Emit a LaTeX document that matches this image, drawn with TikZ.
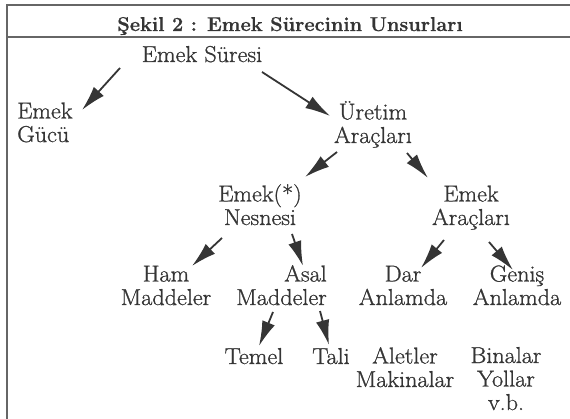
\documentclass[tikz,border=0pt]{standalone}
\usepackage{fontspec}
\usetikzlibrary{arrows.meta}
\newfontfamily\lblfont{Latin Modern Roman}[FakeStretch=1.05, FakeBold=1]
\newfontfamily\ttlfont{Latin Modern Roman}[FakeBold=0.6]
\definecolor{ink}{HTML}{353535}
\definecolor{rulec}{HTML}{666666}
\begin{document}
\begin{tikzpicture}[x=1pt,y=-1pt,
  lbl/.style={font=\lblfont\fontsize{23}{23.5}\selectfont, text=ink, inner sep=0pt, align=center, anchor=base},
  ttl/.style={font=\ttlfont\fontsize{20}{24}\selectfont\bfseries, text=ink, inner sep=0pt, anchor=base},
  arr/.style={draw=ink, line width=1.8pt, -{Latex[length=25pt,width=13.5pt]}},
  frameline/.style={draw=rulec, line width=1.4pt}]
\useasboundingbox (0,0) rectangle (570,419);
% frame
\draw[frameline, line width=2.4pt] (7,420) -- (7,5);
\draw[frameline] (6,5) -- (572,5);
\draw[frameline] (7,37) -- (572,37);
% nodes (anchor base = baseline of the last line)
\node[ttl] (title) at (290,31) {Şekil 2 : Emek Sürecinin Unsurları};
\node[lbl] (es) at (202,62) {Emek Süresi};
\node[lbl, align=left, anchor=base west] (eg) at (17,142) {Emek\\Gücü};
\node[lbl] (ua) at (373,143) {Üretim\\Araçları};
\node[lbl] (en) at (260,225) {Emek(*)\\Nesnesi};
\node[lbl] (ea) at (471,225) {Emek\\Araçları};
\node[lbl] (hm) at (166,305) {Ham\\Maddeler};
\node[lbl, align=right, anchor=base east] (am) at (327,305) {Asal\\Maddeler};
\node[lbl] (da) at (403,305) {Dar\\Anlamda};
\node[lbl] (ga) at (517,305) {Geniş\\Anlamda};
\node[lbl] (te) at (254,364) {Temel};
\node[lbl] (ta) at (331,364) {Tali};
\node[lbl] (al) at (405,387) {Aletler\\Makinalar};
\node[lbl] (bi) at (506,410) {Binalar\\Yollar\\v.b.};
% arrows
\draw[arr] ([shift={(-82,6)}]es.base) -- ([shift={(65,-32)}]eg.base west);
\draw[arr] ([shift={(60,10)}]es.base) -- ([shift={(-43,-27)}]ua.base);
\draw[arr] ([shift={(-36,9)}]ua.base) -- ([shift={(45,-48)}]en.base);
\draw[arr] ([shift={(34,10)}]ua.base) -- ([shift={(-43,-47)}]ea.base);
\draw[arr] ([shift={(-38,13)}]en.base) -- ([shift={(26,-39)}]hm.base);
\draw[arr] ([shift={(32,9)}]en.base) -- ([shift={(-24,-39)}]am.base east);
\draw[arr] ([shift={(-27,15)}]ea.base) -- ([shift={(18,-37)}]da.base);
\draw[arr] ([shift={(18,17)}]ea.base) -- ([shift={(-4,-35)}]ga.base);
\draw[arr] ([shift={(-54,7)}]am.base east) -- ([shift={(5,-18)}]te.base);
\draw[arr] ([shift={(-7,6)}]am.base east) -- ([shift={(-2,-19)}]ta.base);
\end{tikzpicture}
\end{document}
